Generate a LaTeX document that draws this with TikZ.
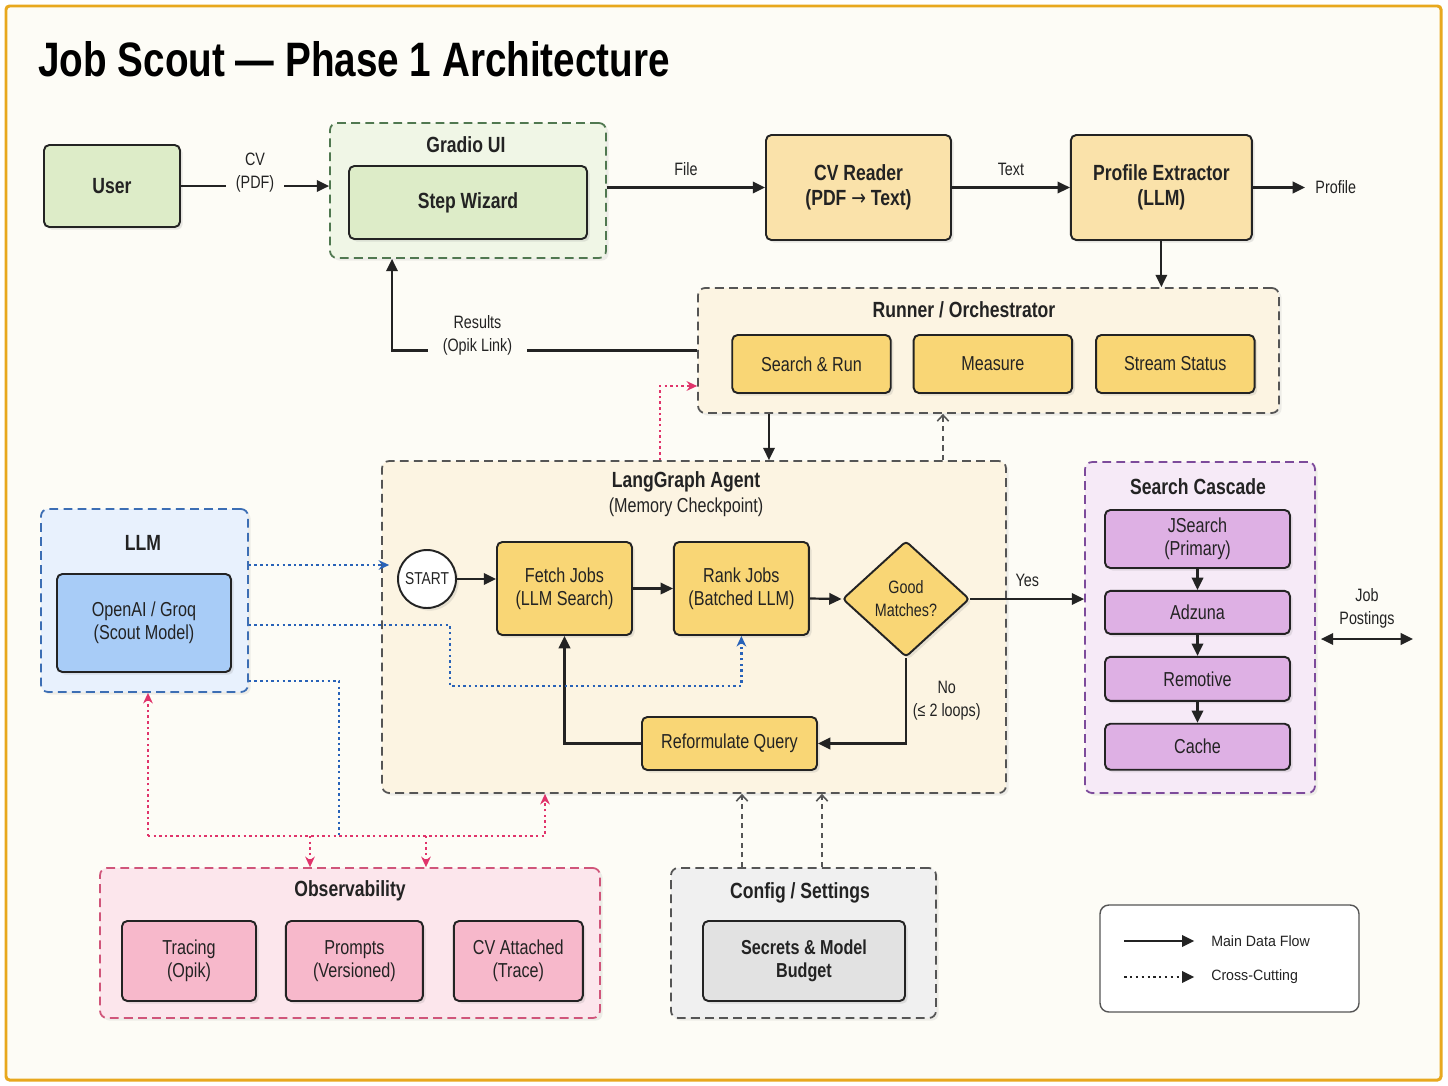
\documentclass[tikz,border=0pt]{standalone}
\usepackage{fontspec}
\setmainfont{Liberation Sans}[FakeStretch=0.8]
\newfontfamily\legfont{Liberation Sans}[FakeStretch=0.95]
\newfontfamily\arrowfont{DejaVu Sans}[FakeStretch=0.8]
\usepackage{tikz}
\usetikzlibrary{shapes.geometric, arrows.meta, positioning, calc, shadows}
\definecolor{mybg}{RGB}{253,252,246}
\definecolor{myframe}{RGB}{232,168,30}
\definecolor{mydark}{RGB}{35,35,35}
\definecolor{mygray}{RGB}{85,85,85}
\definecolor{mygreendk}{RGB}{80,120,80}
\definecolor{myblue}{RGB}{60,110,180}
\definecolor{mypurple}{RGB}{125,75,155}
\definecolor{mypink}{RGB}{208,85,122}
\definecolor{pinkline}{RGB}{224,52,107}
\definecolor{blueline}{RGB}{40,98,184}
\definecolor{hdrgreen}{RGB}{221,236,200}
\definecolor{hdrgreenlt}{RGB}{240,246,230}
\definecolor{hdramber}{RGB}{250,226,170}
\definecolor{hdrcream}{RGB}{252,244,226}
\definecolor{mygold}{RGB}{249,214,117}
\definecolor{hdrblue}{RGB}{232,241,253}
\definecolor{boxblue}{RGB}{168,204,247}
\definecolor{hdrpurple}{RGB}{246,234,247}
\definecolor{boxpurple}{RGB}{222,176,228}
\definecolor{hdrpink}{RGB}{252,230,236}
\definecolor{boxpink}{RGB}{247,184,203}
\definecolor{hdrgray}{RGB}{240,240,240}
\definecolor{boxgray}{RGB}{226,226,226}
\newcommand{\titlefont}{\fontsize{27.5}{32}\selectfont\bfseries}
\newcommand{\boxbf}{\fontsize{12.5}{14.2}\selectfont\bfseries}
\newcommand{\boxrm}{\fontsize{11.5}{13}\selectfont}
\newcommand{\lblfont}{\fontsize{10.2}{13}\selectfont}
\newcommand{\legtextfont}{\legfont\fontsize{8.5}{10}\selectfont}
\tikzset{
  box/.style={rectangle, draw=mydark, line width=1.1pt, rounded corners=3pt,
    align=center, inner sep=2pt, text=mydark,
    drop shadow={shadow xshift=1.5pt, shadow yshift=-1.5pt, opacity=0.18}},
  greenbox/.style={box, fill=hdrgreen, font=\boxbf},
  amberbox/.style={box, fill=hdramber, font=\boxbf},
  goldbox/.style={box, fill=mygold, font=\boxrm},
  bluebox/.style={box, fill=boxblue, font=\boxrm},
  purpbox/.style={box, fill=boxpurple, font=\boxrm},
  pinkbox/.style={box, fill=boxpink, font=\boxrm},
  graybox/.style={box, fill=boxgray, font=\boxrm\bfseries},
  group/.style={rectangle, line width=1pt, dash pattern=on 5pt off 3pt,
    rounded corners=4pt,
    drop shadow={shadow xshift=1.5pt, shadow yshift=-1.5pt, opacity=0.12}},
  greengroup/.style={group, draw=mygreendk, fill=hdrgreenlt},
  ambergroup/.style={group, draw=mygray, fill=hdrcream},
  bluegroup/.style={group, draw=myblue, fill=hdrblue},
  purpgroup/.style={group, draw=mypurple, fill=hdrpurple},
  pinkgroup/.style={group, draw=mypink, fill=hdrpink},
  graygroup/.style={group, draw=mygray, fill=hdrgray},
  grouptitle/.style={font=\boxbf, text=mydark, align=center, inner sep=1pt},
  elabel/.style={font=\lblfont, text=mydark, align=center},
  arrow/.style={-{Triangle[length=7pt, width=6.5pt]}, line width=1.25pt, draw=mydark},
  dblarrow/.style={{Triangle[length=7pt, width=6.5pt]}-{Triangle[length=7pt, width=6.5pt]}, line width=1.25pt, draw=mydark},
  pinkarrow/.style={-{Stealth[length=6pt, width=5.5pt]}, line width=1.5pt, draw=pinkline,
    dash pattern=on 1.4pt off 1.8pt},
  bluearrow/.style={-{Stealth[length=6pt, width=5.5pt]}, line width=1.5pt, draw=blueline,
    dash pattern=on 1.4pt off 1.8pt},
  blueline/.style={line width=1.5pt, draw=blueline, dash pattern=on 1.4pt off 1.8pt},
  grayarrow/.style={-{Straight Barb[length=3.5pt, width=6.5pt]}, line width=0.9pt, draw=mygray,
    dash pattern=on 3pt off 2.5pt},
  dotarrow/.style={-{Triangle[length=7pt, width=6.5pt]}, line width=1.25pt, draw=mydark,
    dash pattern=on 1.3pt off 2pt}
}
\begin{document}
\begin{tikzpicture}[
  x=0.02cm, y=-0.02cm,
  runbox/.style={goldbox, minimum width=3.17cm, minimum height=1.16cm},
  stepbox/.style={goldbox, minimum width=2.70cm, minimum height=1.86cm},
  casbox/.style={purpbox, minimum width=3.70cm},
  obsbox/.style={pinkbox, minimum height=1.60cm},
  startnode/.style={circle, draw=mydark, fill=white, line width=1.1pt, minimum size=1.16cm,
    inner sep=0pt, font=\fontsize{9.8}{11}\selectfont, text=mydark,
    drop shadow={shadow xshift=1.5pt, shadow yshift=-1.5pt, opacity=0.18}},
  decision/.style={diamond, draw=mydark, fill=mygold, line width=1.1pt, rounded corners=2pt,
    minimum width=2.54cm, minimum height=2.32cm, inner sep=0pt, align=center,
    font=\lblfont, text=mydark,
    drop shadow={shadow xshift=1.5pt, shadow yshift=-1.5pt, opacity=0.18}},
  legendbox/.style={rectangle, draw=mygray, fill=white, line width=0.8pt, rounded corners=5pt},
  legtext/.style={font=\legtextfont, text=mydark}
]
  % Canvas
  \fill[white] (0,0) rectangle (1448,1086);
  \useasboundingbox (0,0) rectangle (1448,1086);
  \draw[draw=myframe, fill=mybg, line width=1.7pt, rounded corners=2pt] (6,6) rectangle (1441,1080);

  % Title
  \node[anchor=base west, font=\titlefont, text=black, inner sep=0pt] (title) at (38,76) {Job Scout — Phase 1 Architecture};

  % Groups
  \node[greengroup, minimum width=5.52cm, minimum height=2.70cm] (gradio) at (468,190.5) {};
  \node[ambergroup, minimum width=11.62cm, minimum height=2.50cm] (runner) at (988.5,350.5) {};
  \node[ambergroup, minimum width=12.48cm, minimum height=6.64cm] (agent) at (694,627) {};
  \node[bluegroup, minimum width=4.14cm, minimum height=3.66cm] (llm) at (144.5,600.5) {};
  \node[purpgroup, minimum width=4.60cm, minimum height=6.62cm] (cascade) at (1200,627.5) {};
  \node[pinkgroup, minimum width=10.0cm, minimum height=3.0cm] (obs) at (350,943) {};
  \node[graygroup, minimum width=5.30cm, minimum height=3.0cm] (config) at (803.5,943) {};

  \node[grouptitle] (gradiottl) at (466,145) {Gradio UI};
  \node[grouptitle] (runnerttl) at (964,310) {Runner / Orchestrator};
  \node[grouptitle] (agentttl) at (686,494) {LangGraph Agent\\{\boxrm\mdseries (Memory Checkpoint)}};
  \node[grouptitle] (llmttl) at (143,543) {LLM};
  \node[grouptitle] (cascadettl) at (1198,487) {Search Cascade};
  \node[grouptitle] (obsttl) at (350,891) {Observability};
  \node[grouptitle] (configttl) at (800,893) {Config / Settings};

  % Nodes
  \node[greenbox, minimum width=2.72cm, minimum height=1.64cm] (user) at (112,186) {User};
  \node[greenbox, minimum width=4.76cm, minimum height=1.46cm] (wizard) at (468,202.5) {Step Wizard};
  \node[amberbox, minimum width=3.70cm, minimum height=2.10cm] (cvr) at (858.5,187.5) {CV Reader\\(PDF {\arrowfont\mdseries →} Text)};
  \node[amberbox, minimum width=3.62cm, minimum height=2.10cm, right=2.36cm of cvr] (prof) {Profile Extractor\\(LLM)};

  \node[runbox] (search) at (811.5,364) {Search \& Run};
  \node[runbox, right=0.42cm of search] (measure) {Measure};
  \node[runbox, right=0.44cm of measure] (stream) {Stream Status};

  \node[startnode] (start) at (427,579) {START};
  \node[stepbox] (fetch) at (564.5,588.5) {Fetch Jobs\\(LLM Search)};
  \node[stepbox, right=0.80cm of fetch] (rank) {Rank Jobs\\(Batched LLM)};
  \node[decision] (good) at (906,599) {Good\\Matches?};
  \node[goldbox, minimum width=3.50cm, minimum height=1.06cm] (reform) at (729.5,743.5) {Reformulate Query};

  \node[casbox, minimum height=1.16cm] (jsearch) at (1197.5,539) {JSearch\\(Primary)};
  \node[casbox, minimum height=0.86cm, below=0.42cm of jsearch] (adzuna) {Adzuna};
  \node[casbox, minimum height=0.88cm, below=0.42cm of adzuna] (remotive) {Remotive};
  \node[casbox, minimum height=0.92cm, below=0.42cm of remotive] (cache) {Cache};

  \node[bluebox, minimum width=3.48cm, minimum height=1.96cm] (groq) at (144,623) {OpenAI / Groq\\(Scout Model)};

  \node[obsbox, minimum width=2.68cm] (tracing) at (189,961) {Tracing\\(Opik)};
  \node[obsbox, minimum width=2.74cm, right=0.56cm of tracing] (prompts) {Prompts\\(Versioned)};
  \node[obsbox, minimum width=2.58cm, right=0.58cm of prompts] (cvatt) {CV Attached\\(Trace)};

  \node[graybox, minimum width=4.04cm, minimum height=1.60cm] (secrets) at (804,961) {Secrets \& Model\\Budget};

  \node[legendbox, minimum width=5.18cm, minimum height=2.14cm] (legend) at (1229.5,958.5) {};

  % Main flow
  \draw[arrow] (user.east) -- node[elabel, fill=mybg, yshift=0.26cm, inner xsep=0.2cm] (cvlbl) {CV\\(PDF)} (user.east -| gradio.west);
  \draw[arrow] (gradio.east |- cvr.west) -- node[elabel, above=3pt] (filelbl) {File} (cvr.west);
  \draw[arrow] (cvr) -- node[elabel, above=3pt] (textlbl) {Text} (prof);
  \coordinate (profout) at (1305,188);
  \draw[arrow] (prof.east) -- (prof.east -| profout) node[elabel, right=2pt] (proflbl) {Profile};
  \draw[arrow] (prof.south) -- (prof.south |- runner.north);
  \draw[arrow] (runner.west) -- node[elabel, pos=0.72, fill=mybg, yshift=0.3cm, inner xsep=0.3cm] (reslbl) {Results\\(Opik Link)} ([xshift=-1.52cm]gradio.south |- runner.west) -- ([xshift=-1.52cm]gradio.south);
  \draw[arrow] ([xshift=1.5cm]agent.north |- runner.south) -- ([xshift=1.5cm]agent.north);
  \draw[grayarrow] ([xshift=4.98cm]agent.north) -- ([xshift=4.98cm]agent.north |- runner.south);
  \draw[pinkarrow] ([xshift=-0.68cm]agent.north) |- ([yshift=-0.71cm]runner.west);

  % Agent loop
  \draw[arrow] (start.east) -- (start.east -| fetch.west);
  \draw[arrow] (fetch.east) -- (rank.west);
  \draw[arrow] ([yshift=-0.2cm]rank.east) -- (good.west);
  \draw[arrow] (good.east) -- node[elabel, above=3pt] (yeslbl) {Yes} (good.east -| cascade.west);
  \draw[arrow] (good.south) |- node[elabel, pos=0.25, right=0pt] (nolbl) {No\\(≤ 2 loops)} (reform.east);
  \draw[arrow] (reform.west) -| (fetch.south);

  % Cascade
  \draw[arrow] (jsearch.south) -- (adzuna.north);
  \draw[arrow] (adzuna.south) -- (remotive.north);
  \draw[arrow] (remotive.south) -- (cache.north);
  \coordinate (jpend) at (1413,639);
  \draw[dblarrow] ([xshift=0.1cm]cascade.east |- jpend) -- node[elabel, above=2pt] (joblbl) {Job\\Postings} (jpend);

  % Cross-cutting
  \draw[bluearrow] ([yshift=0.71cm]llm.east) -- ([xshift=0.16cm, yshift=0.71cm]llm.east -| agent.west);
  \draw[bluearrow] ([yshift=-0.49cm]llm.east) -- ++(201,0) -- ++(0,61) -| (rank.south);
  \draw[blueline] ([yshift=-1.61cm]llm.east) -- ++(90,0) -- ++(0,155);
  \coordinate (busl) at (148,836);
  \coordinate (busr) at (545,836);
  \draw[pinkarrow] (busl) -- (busr) -- (busr |- agent.south);
  \draw[pinkarrow] (busl) -- (busl |- llm.south);
  \draw[pinkarrow] ([xshift=-0.8cm]obs.north |- busl) -- ([xshift=-0.8cm]obs.north);
  \draw[pinkarrow] ([xshift=1.52cm]obs.north |- busl) -- ([xshift=1.52cm]obs.north);
  \draw[grayarrow] ([xshift=-1.23cm]config.north) -- ([xshift=-1.23cm]config.north |- agent.south);
  \draw[grayarrow] ([xshift=0.37cm]config.north) -- ([xshift=0.37cm]config.north |- agent.south);

  % Legend
  \draw[arrow] ([xshift=0.5cm, yshift=0.35cm]legend.west) -- ++(70,0) node[legtext, right=0.2cm] (legmain) {Main Data Flow};
  \draw[dotarrow] ([xshift=0.5cm, yshift=-0.37cm]legend.west) -- ++(70,0) node[legtext, right=0.2cm] (legcross) {Cross-Cutting};
\end{tikzpicture}
\end{document}
